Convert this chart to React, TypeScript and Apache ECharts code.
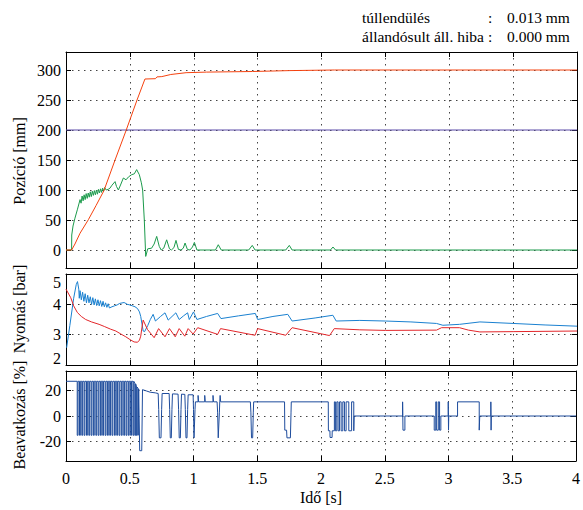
import React, { useEffect, useRef } from 'react';
import * as echarts from 'echarts';

const FONT = '"Liberation Serif", "Times New Roman", serif';

// ---- axis ticks ----
const timeTickStep = 0.5;
const posTicks = [0, 50, 100, 150, 200, 250, 300];
const ctrlTicks = [-20, 0, 20];

// ---- top panel: position [mm] ----
const positionRef: [number, number][] = [[0, 200], [4, 200]];
const positionActual: [number, number][] = [
  [0, 0], [0.044, 0], [0.07, 10], [0.11, 28], [0.175, 50.5], [0.235, 74], [0.297, 99],
  [0.384, 150], [0.47, 199], [0.556, 250], [0.618, 285], [0.7, 285.5], [0.712, 288.5],
  [0.75, 289], [0.82, 292.5], [0.94, 295.5], [1.1, 296.5], [1.46, 297.5], [1.75, 299],
  [2.1, 300], [4, 300],
];
const positionSpeed: [number, number][] = [
  [0, 0], [0.044, 0], [0.045, 25], [0.055, 40], [0.07, 53], [0.09, 68], [0.11, 84],
  [0.118, 78], [0.126, 90], [0.134, 82], [0.142, 92], [0.15, 84], [0.158, 94], [0.166, 86],
  [0.174, 95], [0.182, 88], [0.19, 97], [0.198, 89], [0.206, 98], [0.214, 91], [0.222, 99],
  [0.23, 92], [0.238, 100], [0.246, 93], [0.254, 101], [0.262, 95], [0.27, 102], [0.278, 96],
  [0.286, 103], [0.294, 98], [0.302, 104], [0.315, 100], [0.33, 101], [0.344, 103],
  [0.36, 108], [0.384, 114], [0.395, 106], [0.41, 100], [0.43, 110], [0.449, 120],
  [0.47, 117], [0.49, 122], [0.514, 125.5], [0.535, 127], [0.553, 134], [0.574, 125.5],
  [0.59, 112], [0.6, 100], [0.613, 50], [0.624, -10.7], [0.64, 2], [0.67, 3], [0.69, 10],
  [0.71, 22.7], [0.73, 6], [0.745, 0], [0.765, 3], [0.788, 17], [0.81, 2], [0.825, 0],
  [0.845, 4], [0.861, 16], [0.88, 1], [0.9, 0], [0.918, 3], [0.932, 11.6], [0.95, 1],
  [0.97, 0], [0.99, 5], [1.005, 12.7], [1.025, 0], [1.17, 0], [1.192, 8.8], [1.215, 0],
  [1.43, 0], [1.458, 7.7], [1.48, 0], [1.72, 0], [1.748, 7.7], [1.77, 0], [2.07, 0],
  [2.09, 5], [2.11, 0], [4, 0],
];

// ---- middle panel: pressure [bar] ----
const pressureA: [number, number][] = [
  [0.005, 2.57], [0.03, 3.3], [0.06, 4.2], [0.08, 4.65], [0.09, 4.75], [0.1, 4.5],
  [0.104, 4.2], [0.11, 4.45], [0.12, 4.15], [0.13, 4.4], [0.14, 4.1], [0.15, 4.35],
  [0.16, 4.05], [0.17, 4.3], [0.18, 4.05], [0.19, 4.25], [0.2, 4.0], [0.21, 4.22],
  [0.22, 3.98], [0.23, 4.18], [0.24, 3.96], [0.25, 4.15], [0.26, 3.95], [0.27, 4.12],
  [0.28, 3.93], [0.29, 4.1], [0.3, 3.92], [0.31, 4.05], [0.32, 3.9], [0.33, 4.02],
  [0.34, 3.88], [0.36, 3.92], [0.38, 3.95], [0.4, 3.98], [0.42, 4.03], [0.455, 4.06],
  [0.48, 4.0], [0.5, 3.98], [0.52, 3.95], [0.54, 3.92], [0.56, 3.86], [0.575, 3.75],
  [0.585, 3.6], [0.595, 3.35], [0.604, 3.12], [0.615, 3.1], [0.64, 3.3], [0.66, 3.5],
  [0.682, 3.67], [0.7, 3.45], [0.74, 3.6], [0.775, 3.72], [0.8, 3.48], [0.83, 3.6],
  [0.86, 3.72], [0.886, 3.5], [0.92, 3.62], [0.952, 3.72], [0.965, 3.5], [0.985, 3.65],
  [0.998, 3.75], [1.025, 3.5], [1.1, 3.6], [1.187, 3.7], [1.213, 3.53], [1.35, 3.62],
  [1.482, 3.7], [1.5, 3.5], [1.62, 3.6], [1.736, 3.67], [1.77, 3.45], [1.95, 3.55],
  [2.089, 3.64], [2.115, 3.45], [2.3, 3.47], [2.5, 3.45], [2.7, 3.42], [2.9, 3.37],
  [2.95, 3.31], [3.08, 3.34], [3.24, 3.42], [3.5, 3.37], [3.75, 3.32], [4, 3.28],
];
const pressureB: [number, number][] = [
  [0, 4.5], [0.037, 4.22], [0.06, 3.95], [0.089, 3.73], [0.12, 3.6], [0.154, 3.5],
  [0.2, 3.42], [0.259, 3.34], [0.3, 3.27], [0.35, 3.18], [0.39, 3.12], [0.43, 3.02],
  [0.468, 2.93], [0.5, 2.84], [0.533, 2.76], [0.56, 2.75], [0.575, 2.82], [0.585, 2.95],
  [0.595, 3.25], [0.604, 3.48], [0.638, 3.17], [0.69, 2.9], [0.725, 3.2], [0.775, 2.93],
  [0.81, 3.2], [0.855, 2.93], [0.886, 3.2], [0.93, 2.95], [0.956, 3.2], [0.995, 3.02],
  [1.031, 3.23], [1.187, 3.01], [1.21, 3.2], [1.48, 2.98], [1.5, 3.2], [1.72, 2.98],
  [1.77, 3.23], [2.063, 2.97], [2.1, 3.2], [2.3, 3.16], [2.5, 3.14], [2.9, 3.15],
  [2.94, 3.23], [3.08, 3.23], [3.15, 3.15], [3.24, 3.09], [3.5, 3.1], [4, 3.12],
];

// ---- bottom panel: control signal [%] ----
const ctrlDensePulseTimes = [
  0.088, 0.106, 0.124, 0.142, 0.161, 0.179, 0.197, 0.215, 0.234, 0.252, 0.27, 0.288,
  0.307, 0.325, 0.343, 0.361, 0.38, 0.398, 0.416, 0.434, 0.453, 0.471, 0.489, 0.507, 0.525,
];
const ctrlDenseHigh = 27;
const ctrlDenseLow = -15;
const ctrlRest: [number, number][] = [
  [0.532, 27], [0.54, 25.5], [0.54, -15], [0.546, -15], [0.546, 25], [0.552, 23.5],
  [0.552, -15], [0.558, -15], [0.558, 22.5], [0.566, 21.5], [0.566, -15], [0.57, -15],
  [0.57, 21], [0.575, 21], [0.578, -27], [0.594, -27], [0.6, 20.5], [0.63, 19.5],
  [0.66, 18.5], [0.7, 18], [0.723, 17.5], [0.727, 5], [0.732, -17], [0.745, -17],
  [0.75, 5], [0.754, 17.5], [0.809, 17.5], [0.813, 5], [0.818, -17], [0.826, -17],
  [0.831, 5], [0.835, 17.2], [0.879, 17], [0.883, 5], [0.888, -17], [0.897, -17],
  [0.902, 5], [0.906, 17], [0.932, 16.8], [0.936, 5], [0.941, -17], [0.949, -17],
  [0.954, 5], [0.958, 16.5], [0.997, 16.5], [1.0, 5], [1.004, -17], [1.009, -17],
  [1.012, 5], [1.015, 11], [1.036, 11], [1.036, 16], [1.04, 16], [1.04, 11],
  [1.088, 11], [1.088, 16], [1.092, 16], [1.092, 11], [1.153, 11], [1.153, 16],
  [1.157, 16], [1.157, 11], [1.185, 11], [1.189, 3], [1.194, -17], [1.198, -17],
  [1.203, 3], [1.206, 11], [1.209, 11], [1.209, 16], [1.213, 16], [1.213, 11],
  [1.446, 11], [1.45, 3], [1.455, -17], [1.464, -17], [1.469, 3], [1.472, 11],
  [1.714, 11], [1.716, -11], [1.73, -11], [1.733, -17], [1.76, -17], [1.765, 3],
  [1.767, 11], [2.057, 11], [2.058, -11.5], [2.07, -11.5], [2.071, -16.7], [2.087, -16.7],
  [2.088, -11.5], [2.105, -11.5], [2.105, 11], [2.113, 11], [2.113, -11.5], [2.124, -11.5],
  [2.124, 11], [2.134, 11], [2.134, -11.5], [2.145, -11.5], [2.145, 11], [2.158, 11],
  [2.158, -11.5], [2.171, -11.5], [2.171, 11], [2.184, 11], [2.184, -11.5], [2.197, -11.5],
  [2.197, 11], [2.218, 11], [2.218, -11.5], [2.24, -11.5], [2.24, 11], [2.257, 11],
  [2.257, -11.5], [2.26, -11.5], [2.26, 0], [2.64, 0], [2.64, 11], [2.643, 11],
  [2.643, -11], [2.658, -11], [2.658, 0], [2.888, 0], [2.888, -11], [2.9, -11],
  [2.9, 11], [2.907, 11], [2.907, -11], [2.92, -11], [2.92, 11], [2.93, 11], [2.93, -11],
  [2.94, -11], [2.94, 0], [2.998, 0], [2.998, 11], [3.0, 11], [3.0, -11], [3.002, -11],
  [3.002, 0], [3.071, 0], [3.071, 11], [3.241, 11], [3.241, -11], [3.245, -11],
  [3.245, 0], [3.332, 0], [3.332, 11], [3.334, 11], [3.334, -11], [3.336, -11],
  [3.336, 0], [4, 0],
];

const COLORS = {
  ref: '#5a4aa8',
  pos: '#f5420f',
  green: '#1b9a4b',
  presA: '#1a80d0',
  presB: '#e3262a',
  ctrl: '#1e4c9c',
};

function buildCtrl(): [number, number][] {
  const out: [number, number][] = [[0, ctrlDenseHigh]];
  const w = 0.0065;
  for (const t of ctrlDensePulseTimes) {
    out.push([t, ctrlDenseHigh], [t, ctrlDenseLow], [t + w, ctrlDenseLow], [t + w, ctrlDenseHigh]);
  }
  return out.concat(ctrlRest);
}

const labelStyle = { color: '#000', fontFamily: FONT, fontSize: 16 };
const gridLine = { show: true, lineStyle: { color: '#444', type: [1.5, 4.5] as any, width: 1 } };
const axisLine = { show: true, onZero: false, lineStyle: { color: '#000', width: 1 } };

function xPair(gridIndex: number, showLabels: boolean, name?: string) {
  const base = {
    type: 'value', gridIndex, min: 0, max: 4, interval: timeTickStep,
  };
  return [
    {
      ...base, position: 'bottom', axisLine,
      axisTick: { show: true, inside: true, length: 5, lineStyle: { color: '#000' } },
      axisLabel: { show: showLabels, margin: 9, ...labelStyle },
      splitLine: gridLine,
      name, nameLocation: 'middle', nameGap: 28, nameTextStyle: labelStyle,
    },
    {
      ...base, position: 'top', axisLine,
      axisTick: { show: true, inside: true, length: 5, lineStyle: { color: '#000' } },
      axisLabel: { show: false }, splitLine: { show: false },
    },
  ];
}

function yPair(gridIndex: number, min: number, max: number, opts: any) {
  const { customValues, interval, formatter, rich } = opts;
  const tick: any = { show: true, inside: true, length: 5, lineStyle: { color: '#000' } };
  const lab: any = { show: true, margin: 5, ...labelStyle };
  if (customValues) { tick.customValues = customValues; lab.customValues = customValues; }
  if (formatter) lab.formatter = formatter;
  if (rich) lab.rich = rich;
  const base: any = { type: 'value', gridIndex, min, max };
  if (interval) base.interval = interval;
  return [
    { ...base, position: 'left', axisLine, axisTick: tick, axisLabel: lab, splitLine: gridLine },
    {
      ...base, position: 'right', axisLine, axisTick: { ...tick },
      axisLabel: { show: false }, splitLine: { show: false },
    },
  ];
}

function line(data: [number, number][], color: string, idx: number, z = 2) {
  return {
    type: 'line', data, xAxisIndex: idx, yAxisIndex: idx, showSymbol: false, symbol: 'none',
    lineStyle: { color, width: 1 }, itemStyle: { color }, z, silent: true,
  };
}

function txt(text: string, x: number, y: number, extra: any = {}, size = 16) {
  return {
    type: 'text', x, y, ...extra,
    style: { text, fill: '#000', font: `${size}px ${FONT}`, verticalAlign: 'middle', align: extra.align || 'left' },
  };
}

export default function App() {
  const ref = useRef<HTMLDivElement>(null);
  useEffect(() => {
    if (!ref.current) return;
    const chart = echarts.init(ref.current, undefined, { renderer: 'svg' });
    const left = 66;
    const width = 511;
    const rot = { rotation: Math.PI / 2, align: 'center' };
    const hs = 15.5;
    const option: any = {
      animation: false,
      backgroundColor: '#fff',
      grid: [
        { left, width, top: 52, height: 216 },
        { left, width, top: 274, height: 91 },
        { left, width, top: 371, height: 90 },
      ],
      xAxis: [...xPair(0, false), ...xPair(1, false), ...xPair(2, true, 'Idő [s]')],
      yAxis: [
        ...yPair(0, -30, 330, { customValues: posTicks }),
        ...yPair(1, 2, 5, {
          interval: 1,
          formatter: (v: number) => (v === 5 ? '{t|5}' : v === 2 ? '{b|2}' : String(v)),
          rich: {
            t: { ...labelStyle, padding: [16, 0, 0, 0] },
            b: { ...labelStyle, padding: [0, 0, 14, 0] },
          },
        }),
        ...yPair(2, -35, 35, { customValues: ctrlTicks }),
      ],
      graphic: [
        txt('túllendülés', 362, 17, {}, hs),
        txt(':', 488, 17, {}, hs),
        txt('0.013 mm', 507, 17, {}, hs),
        txt('állandósult áll. hiba', 362, 36, {}, hs),
        txt(':', 488, 36, {}, hs),
        txt('0.000 mm', 507, 36, {}, hs),
        txt('Pozíció [mm]', 19, 161, rot),
        txt('Nyomás [bar]', 19, 309, rot),
        txt('Beavatkozás [%]', 19, 415, rot),
      ],
      series: [
        line(positionRef, COLORS.ref, 0),
        line(positionSpeed, COLORS.green, 0, 3),
        line(positionActual, COLORS.pos, 0, 4),
        line(pressureA, COLORS.presA, 2),
        line(pressureB, COLORS.presB, 2, 3),
        line(buildCtrl(), COLORS.ctrl, 4),
      ],
    };
    chart.setOption(option);
    return () => chart.dispose();
  }, []);
  return <div ref={ref} style={{ width: 583, height: 510, position: 'absolute', left: 0, top: 0 }} />;
}
